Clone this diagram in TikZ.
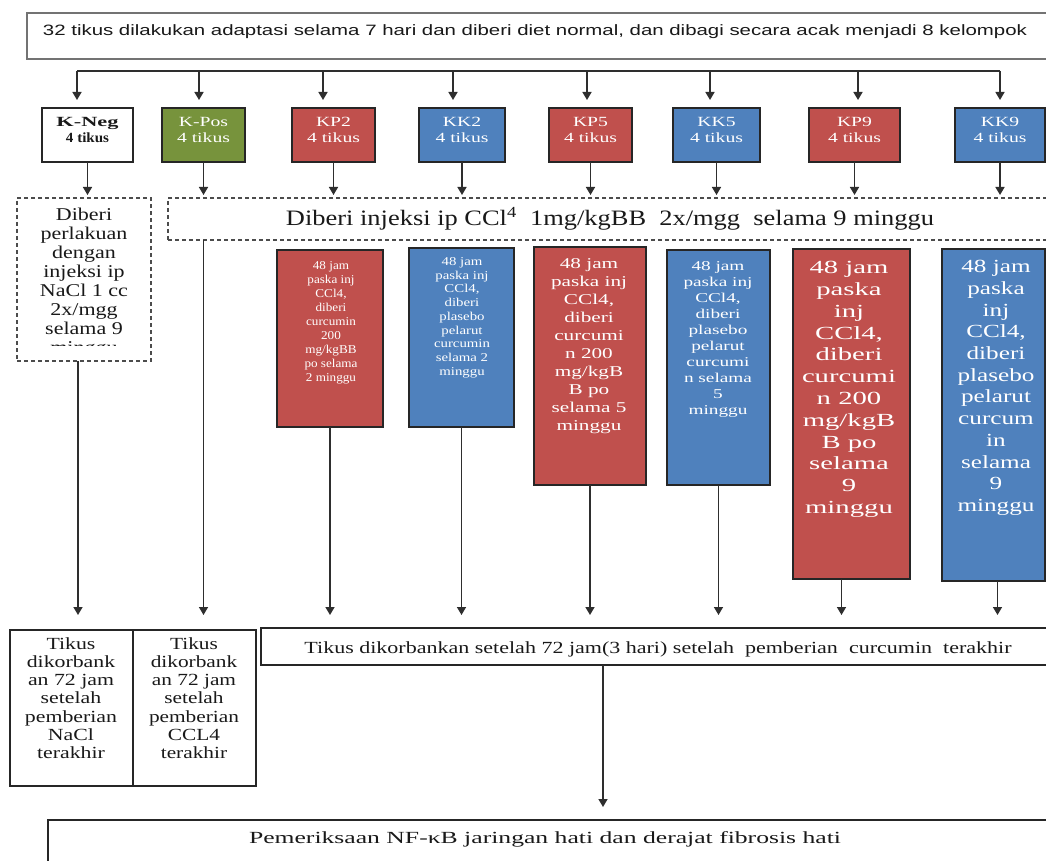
\documentclass[tikz,border=0pt]{standalone}
\usepackage{fontspec}
\setmainfont{Liberation Serif}
\newfontfamily\sansf{Liberation Sans}
\usetikzlibrary{arrows.meta,calc}
\definecolor{cred}{HTML}{C0504D}
\definecolor{cblue}{HTML}{4F81BD}
\definecolor{cgreen}{HTML}{77933C}
\definecolor{lin}{HTML}{2E2E2E}
\newcommand{\fitw}[2]{\resizebox{#1}{\height}{#2}}
\newcommand{\blk}[4]{\resizebox{#1}{\height}{\fontsize{#2}{#3}\selectfont\begin{tabular}{@{}c@{}}#4\end{tabular}}}
\tikzset{
  boxs/.style={draw=black!85, line width=1.3pt, inner sep=0pt, outer sep=0pt, anchor=north west},
  dbox/.style={draw=black!70, line width=1.3pt, dash pattern=on 4pt off 3pt, inner sep=0pt, outer sep=0pt, anchor=north west},
  arr/.style={draw=lin, line width=1.5pt, -{Triangle[length=8pt,width=9pt]}},
  conn/.style={draw=lin, line width=1.5pt},
  wtxt/.style={text=white, inner sep=0pt, anchor=north},
  ktxt/.style={text=black!90, inner sep=0pt},
}
\begin{document}
\begin{tikzpicture}[x=1pt,y=-1pt]
\clip (0,0) rectangle (1046,861);
\fill[white] (0,0) rectangle (1046,861);

% top box
\node[boxs, draw=black!55, line width=1.5pt, minimum width=1030pt, minimum height=46pt] (top) at (27,13) {};
\node[ktxt] (toptxt) at (535,32) {\sansf\fontsize{15}{15}\selectfont\fitw{984pt}{32 tikus dilakukan adaptasi selama 7 hari dan diberi diet normal, dan dibagi secara acak menjadi 8 kelompok}};

% group boxes
\node[boxs, fill=white, minimum width=91pt, minimum height=54pt] (kneg) at (42,108) {};
\node[boxs, fill=cgreen, minimum width=83pt, minimum height=54pt] (kpos) at (162,108) {};
\node[boxs, fill=cred, minimum width=83pt, minimum height=54pt] (kp2) at (292,108) {};
\node[boxs, fill=cblue, minimum width=86pt, minimum height=54pt] (kk2) at (419,108) {};
\node[boxs, fill=cred, minimum width=83pt, minimum height=54pt] (kp5) at (549,108) {};
\node[boxs, fill=cblue, minimum width=87pt, minimum height=54pt] (kk5) at (673,108) {};
\node[boxs, fill=cred, minimum width=91pt, minimum height=54pt] (kp9) at (809,108) {};
\node[boxs, fill=cblue, minimum width=90pt, minimum height=54pt] (kk9) at (955,108) {};

\node[ktxt] (knegt) at ($(kneg.center)+(0,-4)$) {\fontsize{14}{16}\selectfont\begin{tabular}{@{}c@{}}\fitw{62pt}{\bfseries K-Neg}\\\fitw{43pt}{\bfseries 4 tikus}\end{tabular}};
\node[ktxt, text=white] (kpost) at ($(kpos.center)+(0,-4)$) {\blk{53pt}{14}{16}{K-Pos\\4 tikus}};
\node[ktxt, text=white] (kp2t0) at ($(kp2.center)+(0,-4)$) {\blk{53pt}{14}{16}{KP2\\4 tikus}};
\node[ktxt, text=white] (kk2t0) at ($(kk2.center)+(0,-4)$) {\blk{53pt}{14}{16}{KK2\\4 tikus}};
\node[ktxt, text=white] (kp5t0) at ($(kp5.center)+(0,-4)$) {\blk{53pt}{14}{16}{KP5\\4 tikus}};
\node[ktxt, text=white] (kk5t0) at ($(kk5.center)+(0,-4)$) {\blk{53pt}{14}{16}{KK5\\4 tikus}};
\node[ktxt, text=white] (kp9t0) at ($(kp9.center)+(0,-4)$) {\blk{53pt}{14}{16}{KP9\\4 tikus}};
\node[ktxt, text=white] (kk9t0) at ($(kk9.center)+(0,-4)$) {\blk{53pt}{14}{16}{KK9\\4 tikus}};

% bus and arrows to groups
\foreach \n/\x in {kneg/77, kpos/199, kp2/323, kk2/453, kp5/587, kk5/710, kp9/858, kk9/1000} {
  \coordinate (b\n) at (\x,71);
}
\draw[conn] (bkneg) -- (bkk9);
\foreach \n in {kneg, kpos, kp2, kk2, kp5, kk5, kp9, kk9} {
  \draw[arr, shorten >=8pt] (b\n) -- (b\n |- \n.north);
}

% dashed boxes
\node[dbox, minimum width=134pt, minimum height=163pt] (ldash) at (17,198) {};
\node[dbox, minimum width=884pt, minimum height=42pt] (bdash) at (168,198) {};
\begin{scope}
\clip (17,198) rectangle (151,345.5);
\node[ktxt, anchor=north] (ltxt) at (84,207) {\blk{88pt}{18}{19}{Diberi\\perlakuan\\dengan\\injeksi ip\\NaCl 1 cc\\2x/mgg\\selama 9\\minggu}};
\end{scope}
\node[ktxt] (btxt) at (610,219) {\fontsize{22}{22}\selectfont\fitw{648pt}{Diberi injeksi ip CCl\textsuperscript{4}\ \ 1mg/kgBB\ \ 2x/mgg\ \ selama 9 minggu}};

\draw[arr, shorten >=3pt] (kneg.south) -- (kneg.south |- ldash.north);
\foreach \n in {kpos, kp2, kk2, kp5, kk5, kp9, kk9} {
  \draw[arr, shorten >=3pt] (\n.south) -- (\n.south |- bdash.north);
}

% tall coloured boxes
\node[boxs, fill=cred, minimum width=106pt, minimum height=177pt] (kp2b) at (277,250) {};
\node[boxs, fill=cblue, minimum width=105pt, minimum height=179pt] (kk2b) at (409,248) {};
\node[boxs, fill=cred, minimum width=112pt, minimum height=238pt] (kp5b) at (534,247) {};
\node[boxs, fill=cblue, minimum width=103pt, minimum height=235pt] (kk5b) at (667,250) {};
\node[boxs, fill=cred, minimum width=117pt, minimum height=330pt] (kp9b) at (793,249) {};
\node[boxs, fill=cblue, minimum width=103pt, minimum height=332pt] (kk9b) at (942,249) {};

\node[wtxt] (kp2t) at (331,259.4) {\blk{53pt}{12}{14}{48 jam\\paska inj\\CCl4,\\diberi\\curcumin\\200\\mg/kgBB\\po selama\\2 minggu}};
\node[wtxt] (kk2t) at (462,255.6) {\blk{56pt}{12}{13.75}{48 jam\\paska inj\\CCl4,\\diberi\\plasebo\\pelarut\\curcumin\\selama 2\\minggu}};
\node[wtxt] (kp5t) at (589,255.6) {\blk{76pt}{15}{18}{48 jam\\paska inj\\CCl4,\\diberi\\curcumi\\n 200\\mg/kgB\\B po\\selama 5\\minggu}};
\node[wtxt] (kk5t) at (718,259) {\blk{69pt}{13.5}{16}{48 jam\\paska inj\\CCl4,\\diberi\\plasebo\\pelarut\\curcumi\\n selama\\5\\minggu}};
\node[wtxt] (kp9t) at (849,258.3) {\blk{94pt}{18.5}{21.8}{48 jam\\paska\\inj\\CCl4,\\diberi\\curcumi\\n 200\\mg/kgB\\B po\\selama\\9\\minggu}};
\node[wtxt] (kk9t) at (996,257.4) {\blk{77pt}{18.5}{21.7}{48 jam\\paska\\inj\\CCl4,\\diberi\\plasebo\\pelarut\\curcum\\in\\selama\\9\\minggu}};

% bottom boxes
\node[boxs, minimum width=123pt, minimum height=156pt] (kncell) at (10,630) {};
\node[boxs, minimum width=123pt, minimum height=156pt] (kpcell) at (133,630) {};
\node[ktxt, anchor=north] (knct) at (71,636) {\blk{92pt}{17}{18.3}{Tikus\\dikorbank\\an 72 jam\\setelah\\pemberian\\NaCl\\terakhir}};
\node[ktxt, anchor=north] (kpct) at (194,636) {\blk{90pt}{17}{18.3}{Tikus\\dikorbank\\an 72 jam\\setelah\\pemberian\\CCL4\\terakhir}};

\node[boxs, minimum width=795pt, minimum height=37pt] (tikus) at (261,628) {};
\node[ktxt] (tikust) at (658,649.5) {\fontsize{17}{17}\selectfont\fitw{707pt}{Tikus dikorbankan setelah 72 jam(3 hari) setelah\ \ pemberian\ \ curcumin\ \ terakhir}};

\node[boxs, minimum width=1010pt, minimum height=60pt] (final) at (48,820) {};
\node[ktxt] (finalt) at (545,839.5) {\fontsize{17}{17}\selectfont\fitw{592pt}{Pemeriksaan NF-κB jaringan hati dan derajat fibrosis hati}};

% arrows to bottom boxes
\coordinate (a1) at ($(ldash.south)+(-6,0)$);
\draw[arr, shorten >=15pt] (a1) -- (a1 |- kncell.north);
\coordinate (a2) at (kpos.south |- bdash.south);
\draw[arr, shorten >=15pt] (a2) -- (a2 |- kpcell.north);
\foreach \n in {kp2b, kk2b, kp5b, kk5b} {
  \draw[arr, shorten >=13pt] (\n.south) -- (\n.south |- tikus.north);
}
\coordinate (a7) at ($(kp9b.south)+(-10,0)$);
\draw[arr, shorten >=13pt] (a7) -- (a7 |- tikus.north);
\coordinate (a8) at ($(kk9b.south)+(4,0)$);
\draw[arr, shorten >=13pt] (a8) -- (a8 |- tikus.north);

% final arrow
\coordinate (fx) at (603,0);
\draw[arr, shorten >=13pt] (tikus.south -| fx) -- (final.north -| fx);
\end{tikzpicture}
\end{document}
